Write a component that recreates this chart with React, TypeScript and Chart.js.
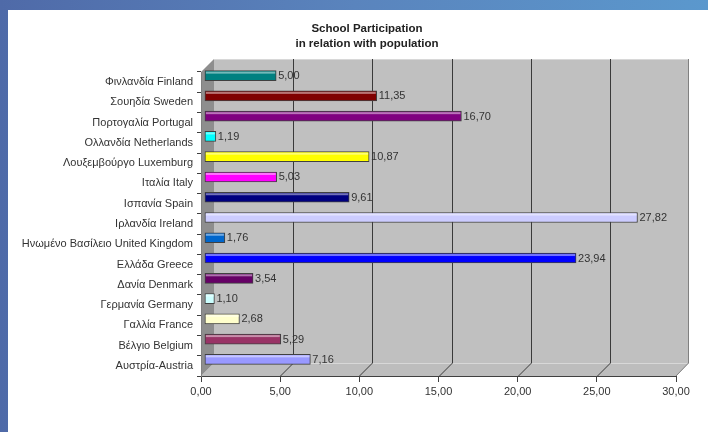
import React, { useEffect, useRef } from "react";
import { Chart, registerables } from "chart.js";

Chart.register(...registerables);

const categories = [
  "Φινλανδία Finland",
  "Σουηδία Sweden",
  "Πορτογαλία Portugal",
  "Ολλανδία Netherlands",
  "Λουξεμβούργο Luxemburg",
  "Ιταλία Italy",
  "Ισπανία Spain",
  "Ιρλανδία Ireland",
  "Ηνωμένο Βασίλειο United Kingdom",
  "Ελλάδα Greece",
  "Δανία Denmark",
  "Γερμανία Germany",
  "Γαλλία France",
  "Βέλγιο Belgium",
  "Αυστρία-Austria",
];

const values = [5.0, 11.35, 16.7, 1.19, 10.87, 5.03, 9.61, 27.82, 1.76, 23.94, 3.54, 1.1, 2.68, 5.29, 7.16];

const barColors = [
  "#008080", "#800000", "#800080", "#00FFFF", "#FFFF00", "#FF00FF", "#000080",
  "#CCCCFF", "#0066CC", "#0000FF", "#660066", "#CCFFFF", "#FFFFCC", "#993366", "#9999FF",
];

const titleLines = ["School Participation", "in relation with population"];
const xMin = 0;
const xMax = 30;
const xStep = 5;

const FONT = "'Liberation Sans', Arial, sans-serif";
const DEPTH = 13;

const fmt = (v: number) => v.toFixed(2).replace(".", ",");

function lighten(hex: string, amt: number) {
  const n = parseInt(hex.slice(1), 16);
  const r = (n >> 16) & 255, g = (n >> 8) & 255, b = n & 255;
  const f = (c: number) => Math.round(c + (255 - c) * amt);
  return `rgb(${f(r)},${f(g)},${f(b)})`;
}

const framePlugin = {
  id: "frame",
  beforeDraw(chart: any) {
    const { ctx, width, height, chartArea } = chart;
    ctx.save();
    const g = ctx.createLinearGradient(0, 0, width, 0);
    g.addColorStop(0, "#4f6aa8");
    g.addColorStop(0.5, "#5a84bd");
    g.addColorStop(1, "#5b98cd");
    ctx.fillStyle = g;
    ctx.fillRect(0, 0, width, height);
    ctx.fillStyle = "#ffffff";
    ctx.fillRect(8, 10, width - 8, height - 10);

    // title
    ctx.fillStyle = "#222";
    ctx.font = `bold 11.5px ${FONT}`;
    ctx.textAlign = "center";
    ctx.textBaseline = "middle";
    titleLines.forEach((t, i) => ctx.fillText(t, 367, 29 + i * 15));

    const { left: L, right: R, top: T, bottom: B } = chartArea;
    const d = DEPTH;
    // back wall
    ctx.fillStyle = "#c0c0c0";
    ctx.fillRect(L + d, T - d, R - L, B - T);
    // floor
    ctx.fillStyle = "#bdbdbd";
    ctx.beginPath();
    ctx.moveTo(L, B);
    ctx.lineTo(R, B);
    ctx.lineTo(R + d, B - d);
    ctx.lineTo(L + d, B - d);
    ctx.closePath();
    ctx.fill();
    // left wall
    ctx.fillStyle = "#8e8e8e";
    ctx.beginPath();
    ctx.moveTo(L, T);
    ctx.lineTo(L + d, T - d);
    ctx.lineTo(L + d, B - d);
    ctx.lineTo(L, B);
    ctx.closePath();
    ctx.fill();

    // edges
    ctx.lineWidth = 1;
    ctx.strokeStyle = "#d8d8d8";
    ctx.beginPath();
    ctx.moveTo(L + d, B - d + 0.5);
    ctx.lineTo(R + d, B - d + 0.5);
    ctx.moveTo(L + d, T - d + 0.5);
    ctx.lineTo(R + d, T - d + 0.5);
    ctx.stroke();
    ctx.strokeStyle = "#808080";
    ctx.beginPath();
    ctx.moveTo(R + d - 0.5, T - d);
    ctx.lineTo(R + d - 0.5, B - d);
    ctx.lineTo(R, B);
    ctx.stroke();

    // grid lines
    const xs = chart.scales.x;
    ctx.strokeStyle = "#3a3a3a";
    ctx.beginPath();
    for (let v = xMin + xStep; v < xMax; v += xStep) {
      const px = Math.round(xs.getPixelForValue(v)) + 0.5;
      ctx.moveTo(px + d, T - d);
      ctx.lineTo(px + d, B - d);
      ctx.lineTo(px, B);
    }
    ctx.stroke();
    ctx.restore();
  },
  beforeDatasetsDraw(chart: any) {
    chart.ctx.save();
    chart.ctx.translate(-4, -6.5);
  },
  afterDatasetsDraw(chart: any) {
    const { ctx } = chart;
    const meta = chart.getDatasetMeta(0);
    ctx.font = `11px ${FONT}`;
    ctx.textAlign = "left";
    ctx.textBaseline = "middle";
    meta.data.forEach((el: any, i: number) => {
      const p = el.getProps(["x", "y", "base", "height"], true);
      const top = p.y - p.height / 2;
      ctx.fillStyle = lighten(barColors[i], 0.45);
      ctx.fillRect(p.base + 1, top + 1, p.x - p.base - 2, 2);
      ctx.fillStyle = "#333";
      ctx.fillText(fmt(values[i]), p.x + 2, p.y + 0.5);
    });
    ctx.restore();
  },
};

export default function App() {
  const ref = useRef<HTMLCanvasElement | null>(null);
  useEffect(() => {
    if (!ref.current) return;
    Chart.defaults.font.family = FONT;
    const chart = new Chart(ref.current, {
      type: "bar",
      data: {
        labels: categories,
        datasets: [
          {
            data: values,
            backgroundColor: barColors,
            borderColor: "#404040",
            borderWidth: 1,
            borderSkipped: false,
            barThickness: 10,
            base: 0.5,
          } as any,
        ],
      },
      options: {
        indexAxis: "y",
        responsive: false,
        animation: false,
        events: [],
        layout: { padding: { left: 0, right: 32, top: 72, bottom: 0 } },
        plugins: {
          legend: { display: false },
          tooltip: { enabled: false },
          title: { display: false },
        },
        scales: {
          x: {
            type: "linear",
            min: xMin,
            max: xMax,
            afterFit: (s: any) => {
              s.height = 56;
            },
            ticks: {
              stepSize: xStep,
              color: "#333",
              font: { size: 11, family: FONT },
              padding: 3,
              callback: (v: any) => fmt(Number(v)),
            },
            grid: { drawOnChartArea: false, tickLength: 6, color: "#404040" },
            border: { color: "#404040" },
          },
          y: {
            type: "category",
            afterFit: (s: any) => {
              s.width = 201;
            },
            ticks: { color: "#333", font: { size: 11, family: FONT }, padding: 4, autoSkip: false },
            grid: { drawOnChartArea: false, tickLength: 4, color: "#404040", offset: true },
            border: { color: "#808080" },
          },
        },
      },
      plugins: [framePlugin],
    });
    return () => chart.destroy();
  }, []);
  return (
    <div style={{ position: "fixed", left: 0, top: 0, width: 708, height: 432 }}>
      <canvas ref={ref} width={708} height={432} />
    </div>
  );
}
